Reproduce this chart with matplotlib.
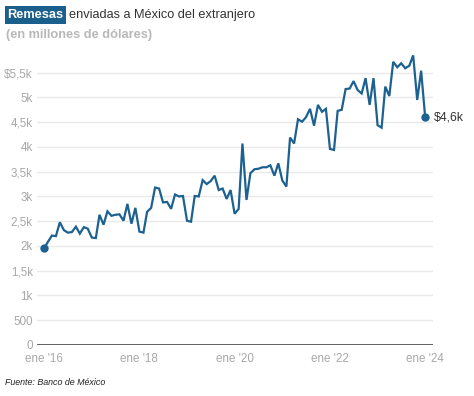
import pandas as pd
import numpy as np
import matplotlib
matplotlib.use('Agg')
import matplotlib.pyplot as plt

plt.rcParams['font.family'] = ['Liberation Sans', 'DejaVu Sans']

# monthly remittances, millions of USD (thousands on the axis), Jan 2016 - Jan 2024
remesas_2016 = [1.95, 2.09, 2.21, 2.20, 2.48, 2.32, 2.27, 2.28, 2.39, 2.25, 2.38, 2.35]
remesas_2017 = [2.17, 2.16, 2.63, 2.43, 2.70, 2.61, 2.63, 2.64, 2.51, 2.85, 2.45, 2.77]
remesas_2018 = [2.29, 2.27, 2.69, 2.77, 3.18, 3.16, 2.88, 2.89, 2.75, 3.04, 3.00, 3.01]
remesas_2019 = [2.51, 2.49, 3.01, 3.00, 3.33, 3.25, 3.31, 3.42, 3.13, 3.16, 2.95, 3.13]
remesas_2020 = [2.65, 2.75, 4.07, 2.93, 3.47, 3.55, 3.56, 3.59, 3.59, 3.63, 3.42, 3.67]
remesas_2021 = [3.32, 3.20, 4.19, 4.07, 4.56, 4.51, 4.60, 4.77, 4.43, 4.85, 4.71, 4.77]
remesas_2022 = [3.96, 3.94, 4.73, 4.75, 5.17, 5.18, 5.33, 5.15, 5.08, 5.39, 4.85, 5.39]
remesas_2023 = [4.44, 4.39, 5.22, 5.03, 5.72, 5.61, 5.69, 5.59, 5.64, 5.85, 4.95, 5.54]
remesas_2024 = [4.60]

values = (remesas_2016 + remesas_2017 + remesas_2018 + remesas_2019 + remesas_2020
          + remesas_2021 + remesas_2022 + remesas_2023 + remesas_2024)
dates = pd.date_range('2016-01-01', periods=len(values), freq='MS')

yticks = [0, 0.5, 1, 1.5, 2, 2.5, 3, 3.5, 4, 4.5, 5, 5.5]
ytick_labels = ['0', '500', '1k', '1,5k', '2k', '2,5k', '3k', '3,5k', '4k', '4,5k', '5k', '$5,5k']
xtick_dates = pd.to_datetime(['2016-01-01', '2018-01-01', '2020-01-01', '2022-01-01', '2024-01-01'])
xtick_labels = ["ene '16", "ene '18", "ene '20", "ene '22", "ene '24"]
end_label = '$4,6k'

line_color = '#1c6190'
grid_color = '#e9e9e9'
tick_color = '#a8a8a8'

fig = plt.figure(figsize=(4.74, 3.96), dpi=100)
ax = fig.add_axes([0.0781, 0.1288, 0.8354, 0.7376])

ax.plot(dates, values, color=line_color, lw=1.6, solid_joinstyle='miter', zorder=3)
ax.plot([dates[0], dates[-1]], [values[0], values[-1]], 'o', color=line_color, ms=5, zorder=4)
ax.annotate(end_label, (dates[-1], values[-1]), xytext=(6, 0), textcoords='offset points',
            va='center', ha='left', fontsize=8.8, color='#333333')

ax.set_xlim(pd.Timestamp('2015-11-08'), pd.Timestamp('2024-03-01'))
ax.set_ylim(0, 5.9)

ax.set_yticks(yticks)
ax.set_yticklabels(ytick_labels)
ax.set_xticks(xtick_dates)
ax.set_xticklabels(xtick_labels)
ax.tick_params(axis='both', length=0, labelsize=8.4, colors=tick_color)
ax.tick_params(axis='y', pad=3)
ax.tick_params(axis='x', pad=5.5)

for y in yticks[1:]:
    ax.axhline(y, color=grid_color, lw=1, zorder=1)
ax.axhline(0, color='#555555', lw=1.3, zorder=2)

for s in ax.spines.values():
    s.set_visible(False)

# title: highlighted word followed by the rest
t1 = fig.text(0.016, 0.962, 'Remesas', fontsize=9.2, fontweight='bold', color='white',
              va='center', ha='left',
              bbox=dict(boxstyle='square,pad=0.2', fc='#1b5f8c', ec='none'))
fig.canvas.draw()
bb = t1.get_window_extent(renderer=fig.canvas.get_renderer())
fig.text(bb.x1 / fig.bbox.width + 0.011, 0.962, 'enviadas a México del extranjero',
         fontsize=9.2, color='#333333', va='center', ha='left')
fig.text(0.012, 0.912, '(en millones de dólares)', fontsize=9.2, fontweight='bold',
         color='#b8b8b8', va='center', ha='left')
fig.text(0.01, 0.035, 'Fuente: Banco de México', fontsize=6.4, style='italic',
         color='#222222', va='center', ha='left')

fig.savefig('out.png', dpi=100)
